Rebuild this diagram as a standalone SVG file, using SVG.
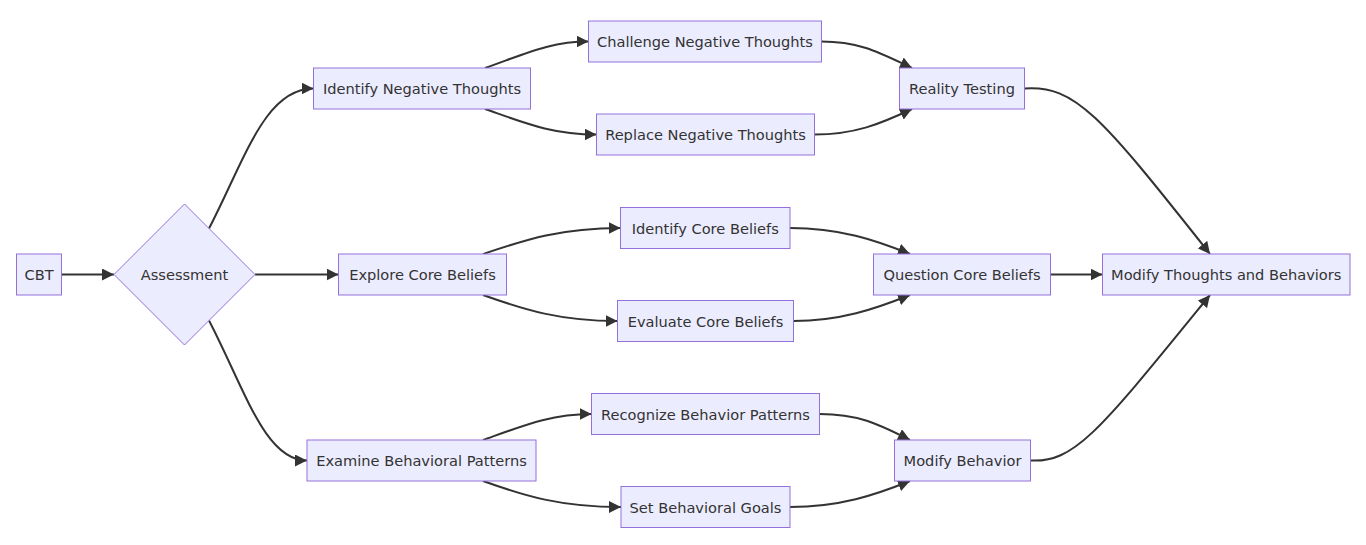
<svg xmlns="http://www.w3.org/2000/svg" width="1366" height="545" viewBox="0 0 1366 545">
<style>
.n rect,.n polygon{fill:#ECECFF;stroke:#9370DB;stroke-width:1px}
.n text{font-family:"DejaVu Sans",Verdana,sans-serif;font-size:14.6px;fill:#333;text-anchor:middle;dominant-baseline:central}
.e path{fill:none;stroke:#333;stroke-width:2px;marker-end:url(#arr)}
</style>
<defs>
<marker id="arr" viewBox="0 0 10 10" refX="10" refY="5" markerUnits="userSpaceOnUse" markerWidth="12" markerHeight="12" orient="auto">
<path d="M0,0 L10,5 L0,10 z" fill="#333"/>
</marker>
</defs>
<rect width="1366" height="545" fill="#fff"/>
<g class="e" id="edges">
<path d="M61.5,274.5 L114,274.5"/>
<path d="M209,228.5 C245,159 265,88.5 313.5,88.5"/>
<path d="M255,274.5 L338.5,274.5"/>
<path d="M209,320.5 C245,390 265,460.5 307,460.5"/>
<path d="M485,68 C525,54 550,41.5 588.5,41.5"/>
<path d="M485,109 C525,123 552,134.5 596.5,134.5"/>
<path d="M821.5,41.5 C860,41.5 880,53 912,68"/>
<path d="M814.5,134.5 C855,134.5 880,124 912,109"/>
<path d="M483,254 C525,240 560,228 620.5,228"/>
<path d="M483,295 C525,310 560,321 617.5,321"/>
<path d="M790,228 C840,228 875,240 910,254"/>
<path d="M793.5,321 C840,321 875,309 910,295"/>
<path d="M1050.5,274.5 L1102.5,274.5"/>
<path d="M483,440 C525,425 552,414 591.5,414"/>
<path d="M483,481 C525,496 560,507 621,507"/>
<path d="M819.5,414 C860,414 880,425 910,440"/>
<path d="M790,507 C840,507 875,495 910,481"/>
<path d="M1024.5,88.5 C1075,85 1100,115 1210,254"/>
<path d="M1030.5,460.5 C1075,463 1100,430 1210,295"/>
</g>
<g class="n" id="CBT"><rect x="16.5" y="254" width="45" height="41"/><text x="39" y="274.5">CBT</text></g>
<g class="n" id="Assessment"><polygon points="184.5,204 255,274.5 184.5,345 114,274.5"/><text x="184.5" y="274.5">Assessment</text></g>
<g class="n" id="IdentifyNeg"><rect x="313.5" y="68" width="217" height="41"/><text x="422" y="88.5">Identify Negative Thoughts</text></g>
<g class="n" id="ExploreCore"><rect x="338.5" y="254" width="168" height="41"/><text x="422.5" y="274.5">Explore Core Beliefs</text></g>
<g class="n" id="ExamineBeh"><rect x="307" y="440" width="229" height="41"/><text x="421.5" y="460.5">Examine Behavioral Patterns</text></g>
<g class="n" id="Challenge"><rect x="588.5" y="21" width="233" height="41"/><text x="705" y="41.5">Challenge Negative Thoughts</text></g>
<g class="n" id="Replace"><rect x="596.5" y="114" width="218" height="41"/><text x="705.5" y="134.5">Replace Negative Thoughts</text></g>
<g class="n" id="IdentifyCore"><rect x="620.5" y="207.5" width="169.5" height="41"/><text x="705.25" y="228">Identify Core Beliefs</text></g>
<g class="n" id="EvaluateCore"><rect x="617.5" y="300.5" width="176" height="41"/><text x="705.5" y="321">Evaluate Core Beliefs</text></g>
<g class="n" id="Recognize"><rect x="591.5" y="393.5" width="228" height="41"/><text x="705.5" y="414">Recognize Behavior Patterns</text></g>
<g class="n" id="SetGoals"><rect x="621" y="486.5" width="169" height="41"/><text x="705.5" y="507">Set Behavioral Goals</text></g>
<g class="n" id="Reality"><rect x="899.5" y="68" width="125" height="41"/><text x="962" y="88.5">Reality Testing</text></g>
<g class="n" id="Question"><rect x="873.5" y="254" width="177" height="41"/><text x="962" y="274.5">Question Core Beliefs</text></g>
<g class="n" id="ModifyBeh"><rect x="894.5" y="440" width="136" height="41"/><text x="962.5" y="460.5">Modify Behavior</text></g>
<g class="n" id="ModifyAll"><rect x="1102.5" y="254" width="247.5" height="41"/><text x="1226.25" y="274.5">Modify Thoughts and Behaviors</text></g>
</svg>
